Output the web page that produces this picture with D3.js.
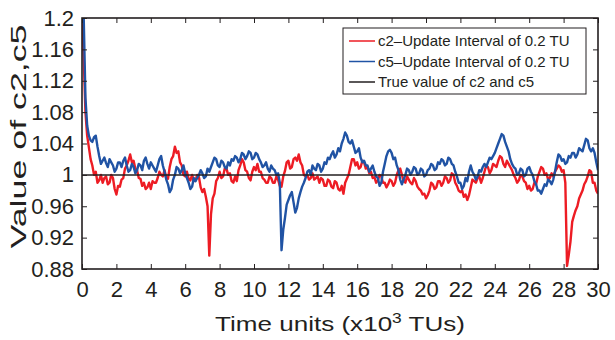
<!DOCTYPE html>
<html>
<head>
<meta charset="utf-8">
<script src="https://cdn.jsdelivr.net/npm/d3@7"></script>
<style>
  body { margin: 0; background: #fff; }
  text { font-family: "Liberation Sans", Arial, sans-serif; fill: #231f20; }
</style>
</head>
<body>
<svg id="viz" width="615" height="340"></svg>
<script>
const WIDTH = 615;
const HEIGHT = 340;
const MARGIN = { top: 18, right: 17, bottom: 71, left: 82 };

const RED = "#ed1c24";
const BLUE = "#2053a4";
const INK = "#231f20";

// sample times, x10^3 TU (every 0.1)
const TIMES = d3.range(0, 30.001, 0.1).map(t => +t.toFixed(1));

// c2 estimate, one row per 1 TU
const C2_VALUES = [
  1.21, 1.15, 1.08, 1.05, 1.035, 1.02, 1.012, 1.0, 1.004, 0.99,
  0.993, 1.0, 0.99, 0.996, 0.998, 0.988, 0.99, 1.0, 0.996, 0.982,
  0.975, 0.986, 0.985, 0.994, 0.996, 1.008, 1.012, 1.018, 1.026, 1.016,
  1.018, 1.008, 1.006, 0.996, 0.995, 0.986, 0.99, 0.982, 0.984, 0.99,
  0.982, 0.992, 0.99, 0.99, 0.996, 1.004, 1.0, 0.998, 1.006, 0.996,
  0.995, 1.01, 1.02, 1.024, 1.036, 1.028, 1.03, 1.016, 1.012, 1.0,
  0.998, 1.004, 0.995, 0.993, 1.0, 0.992, 0.993, 1.0, 0.997, 0.984,
  0.978, 0.982, 0.972, 0.96, 0.897, 0.95, 0.97, 0.976, 0.992, 0.996,
  1.004, 0.996, 0.998, 1.008, 1.008, 1.0, 1.002, 0.992, 0.99, 0.998,
  0.992, 1.006, 1.012, 1.02, 1.016, 1.006, 1.004, 0.996, 0.993, 1.004,
  1.01, 1.006, 1.014, 1.004, 1.004, 0.996, 0.994, 0.99, 0.99, 0.998,
  0.996, 0.99, 0.99, 0.998, 0.994, 0.986, 0.985, 0.998, 1.005, 1.016,
  1.018, 1.008, 1.01, 1.02, 1.022, 1.018, 1.026, 1.016, 1.012, 1.0,
  0.998, 1.0, 0.994, 0.996, 1.002, 0.994, 0.996, 0.998, 0.99, 0.996,
  0.994, 0.986, 0.986, 0.994, 0.992, 0.985, 0.983, 0.992, 0.99, 0.982,
  0.98, 0.986, 0.976, 0.99, 0.995, 1.0, 1.01, 1.02, 1.02, 1.012,
  1.016, 1.008, 1.01, 1.018, 1.016, 1.008, 1.01, 1.002, 1.004, 0.996,
  0.997, 0.99, 0.993, 1.0, 0.998, 0.99, 0.99, 0.984, 0.988, 0.994,
  0.992, 0.986, 0.99, 1.0, 1.006, 1.008, 1.0, 0.992, 0.99, 0.998,
  0.994, 0.99, 0.988, 0.996, 0.992, 0.985, 0.982, 0.98, 0.975, 0.976,
  0.97, 0.974, 0.98, 0.99, 0.988, 0.982, 0.984, 0.992, 0.992, 0.986,
  0.99, 0.998, 0.996, 0.99, 0.993, 1.002, 1.0, 0.99, 0.986, 0.98,
  0.978, 0.98, 0.972, 0.975, 0.968, 0.974, 0.984, 0.994, 0.992, 0.99,
  0.996, 0.998, 0.99, 0.996, 1.004, 1.012, 1.01, 1.002, 1.006, 1.014,
  1.012, 1.01, 1.018, 1.024, 1.022, 1.014, 1.01, 1.018, 1.014, 1.01,
  1.006, 1.0, 0.996, 0.99, 0.993, 1.0, 0.998, 0.992, 0.99, 0.982,
  0.986, 0.98, 0.982, 0.99, 0.988, 0.998, 1.004, 1.01, 1.008, 1.0,
  1.002, 0.994, 0.996, 1.002, 0.998, 1.004, 1.008, 1.012, 1.01, 1.004,
  1.006, 0.99, 0.884, 0.898, 0.915, 0.94, 0.948, 0.955, 0.96, 0.97,
  0.975, 0.98, 0.988, 0.992, 0.998, 1.006, 1.004, 0.99, 0.99, 0.98,
  0.976
];

// c5 estimate, one row per 1 TU
const C5_VALUES = [
  1.32, 1.2, 1.098, 1.063, 1.05, 1.044, 1.042, 1.048, 1.05, 1.036,
  1.024, 1.014, 1.018, 1.022, 1.015, 1.01, 1.02, 1.016, 1.012, 1.004,
  1.008, 1.016, 1.016, 1.01, 1.018, 1.022, 1.012, 1.004, 1.006, 1.014,
  1.01, 1.002, 1.006, 1.014, 1.012, 1.006, 1.018, 1.022, 1.014, 1.008,
  1.016, 1.012, 1.008, 1.004, 1.012, 1.02, 1.024, 1.012, 1.004, 0.994,
  0.988, 0.978, 0.982, 0.994, 1.0, 1.01, 1.008, 1.002, 1.006, 1.012,
  1.002, 0.996, 0.99, 0.982, 0.985, 0.996, 0.992, 0.996, 1.0, 1.006,
  1.002, 0.996, 0.998, 1.008, 1.004, 1.01, 1.016, 1.022, 1.02, 1.012,
  1.01, 1.018, 1.016, 1.01, 1.008, 1.016, 1.012, 1.02, 1.018, 1.024,
  1.022, 1.016, 1.02, 1.028, 1.026, 1.02, 1.024, 1.03, 1.028, 1.02,
  1.022, 1.028, 1.026, 1.02, 1.016, 1.01, 1.012, 1.016, 1.008, 1.004,
  1.012, 1.008, 1.006, 1.0, 1.002, 0.99, 0.904, 0.93, 0.945, 0.962,
  0.968, 0.974, 0.978, 0.965, 0.952, 0.958, 0.97, 0.978, 0.985, 0.99,
  0.996, 1.004, 1.006, 1.0, 1.012, 1.008, 1.006, 1.014, 1.012, 1.004,
  1.008, 1.016, 1.014, 1.022, 1.02, 1.026, 1.03, 1.022, 1.026, 1.034,
  1.03, 1.04, 1.046, 1.054, 1.05, 1.042, 1.04, 1.044, 1.036, 1.028,
  1.03, 1.034, 1.022, 1.016, 1.018, 1.012, 1.012, 1.004, 1.008, 1.012,
  1.004, 0.998, 0.996, 0.986, 0.99, 1.004, 1.014, 1.024, 1.03, 1.032,
  1.028, 1.02, 1.022, 1.012, 1.006, 0.994, 0.988, 0.994, 1.0, 1.008,
  1.006, 1.0, 1.004, 1.01, 1.008, 1.0, 1.002, 1.008, 1.006, 0.998,
  1.0, 1.006, 1.008, 1.014, 1.012, 1.006, 1.008, 1.016, 1.014, 1.02,
  1.018, 1.012, 1.014, 1.022, 1.02, 1.014, 1.012, 1.004, 0.998, 0.99,
  0.99, 0.982, 0.986, 0.996, 0.992, 1.004, 1.012, 1.004, 1.0, 0.994,
  0.998, 1.006, 1.004, 1.01, 1.014, 1.01, 1.016, 1.022, 1.02, 1.024,
  1.028, 1.034, 1.04, 1.046, 1.052, 1.05, 1.042, 1.036, 1.03, 1.02,
  1.014, 1.01, 1.008, 1.0, 1.002, 1.008, 1.006, 0.998, 1.0, 1.008,
  1.01, 1.004, 1.0, 0.992, 0.988, 0.98, 0.98, 0.976, 0.982, 0.988,
  0.986, 0.994, 0.992, 0.988, 0.994, 1.004, 1.016, 1.026, 1.024, 1.018,
  1.02, 1.014, 1.016, 1.024, 1.022, 1.028, 1.028, 1.022, 1.026, 1.034,
  1.032, 1.03, 1.038, 1.046, 1.044, 1.034, 1.03, 1.034, 1.028, 1.016,
  1.006
];

const TRUE_VALUE = 1;

const X_TICKS = [0, 2, 4, 6, 8, 10, 12, 14, 16, 18, 20, 22, 24, 26, 28, 30];
const Y_TICKS = [0.88, 0.92, 0.96, 1, 1.04, 1.08, 1.12, 1.16, 1.2];

const LEGEND_LABELS = [
  "c2\u2013Update Interval of 0.2 TU",
  "c5\u2013Update Interval of 0.2 TU",
  "True value of c2 and c5"
];
const LEGEND_COLORS = [RED, BLUE, INK];

const svg = d3.select("#viz");
const innerW = WIDTH - MARGIN.left - MARGIN.right;
const innerH = HEIGHT - MARGIN.top - MARGIN.bottom;

const x = d3.scaleLinear().domain([0, 30]).range([0, innerW]);
const y = d3.scaleLinear().domain([0.88, 1.2]).range([innerH, 0]);

const plot = svg.append("g").attr("transform", `translate(${MARGIN.left},${MARGIN.top})`);

plot.append("clipPath").attr("id", "clip")
  .append("rect").attr("width", innerW).attr("height", innerH);

const line = d3.line().x(d => x(d[0])).y(d => y(d[1]));
const lines = plot.append("g").attr("clip-path", "url(#clip)");

function drawSeries(values, color) {
  lines.append("path")
    .datum(TIMES.map((t, i) => [t, values[i]]))
    .attr("fill", "none")
    .attr("stroke", color)
    .attr("stroke-width", 2.4)
    .attr("stroke-linejoin", "round")
    .attr("d", line);
}

drawSeries(C2_VALUES, RED);
drawSeries(C5_VALUES, BLUE);

lines.append("path")
  .datum([[0, TRUE_VALUE], [30, TRUE_VALUE]])
  .attr("fill", "none")
  .attr("stroke", INK)
  .attr("stroke-width", 1.5)
  .attr("d", line);

// axes: ticks point inward on all four sides
function styleAxis(g) {
  g.select(".domain").remove();
  g.selectAll(".tick line").attr("stroke", INK).attr("stroke-width", 1);
  g.selectAll(".tick text").attr("fill", INK).style("font-size", "22px");
}

plot.append("g")
  .attr("transform", `translate(0,${innerH})`)
  .call(d3.axisBottom(x).tickValues(X_TICKS).tickSizeInner(-5).tickSizeOuter(0).tickPadding(12).tickFormat(d3.format("d")))
  .call(styleAxis);

plot.append("g")
  .call(d3.axisTop(x).tickValues(X_TICKS).tickSizeInner(-5).tickSizeOuter(0).tickFormat(""))
  .call(styleAxis);

plot.append("g")
  .call(d3.axisLeft(y).tickValues(Y_TICKS).tickSizeInner(-5).tickSizeOuter(0).tickPadding(8).tickFormat(d => String(+d.toFixed(2))))
  .call(styleAxis);

plot.append("g")
  .attr("transform", `translate(${innerW},0)`)
  .call(d3.axisRight(y).tickValues(Y_TICKS).tickSizeInner(-5).tickSizeOuter(0).tickFormat(""))
  .call(styleAxis);

plot.append("rect")
  .attr("width", innerW)
  .attr("height", innerH)
  .attr("fill", "none")
  .attr("stroke", INK)
  .attr("stroke-width", 1.6);

// legend
const legend = svg.append("g").attr("transform", "translate(343,28)");
legend.append("rect")
  .attr("width", 243)
  .attr("height", 66)
  .attr("fill", "#fff")
  .attr("stroke", INK)
  .attr("stroke-width", 1);

LEGEND_LABELS.forEach((label, i) => {
  const rowY = 13 + i * 20.5;
  legend.append("line")
    .attr("x1", 6).attr("x2", 32)
    .attr("y1", rowY).attr("y2", rowY)
    .attr("stroke", LEGEND_COLORS[i])
    .attr("stroke-width", 1.5);
  legend.append("text")
    .attr("x", 35)
    .attr("y", rowY)
    .attr("dy", "0.35em")
    .style("font-size", "15px")
    .text(label);
});

// axis titles (the source figure is stretched along the text direction)
const xTitle = svg.append("text")
  .attr("x", MARGIN.left + innerW / 2)
  .attr("y", 331)
  .attr("text-anchor", "middle")
  .attr("textLength", 250)
  .attr("lengthAdjust", "spacingAndGlyphs")
  .style("font-size", "21px");
xTitle.append("tspan").text("Time units (x10");
xTitle.append("tspan").attr("dy", -8).style("font-size", "14px").text("3");
xTitle.append("tspan").attr("dy", 8).text(" TUs)");

svg.append("text")
  .attr("transform", `translate(26,${MARGIN.top + innerH / 2 - 7}) rotate(-90)`)
  .attr("text-anchor", "middle")
  .attr("textLength", 224)
  .attr("lengthAdjust", "spacingAndGlyphs")
  .style("font-size", "22px")
  .text("Value of c2,c5");
</script>
</body>
</html>
